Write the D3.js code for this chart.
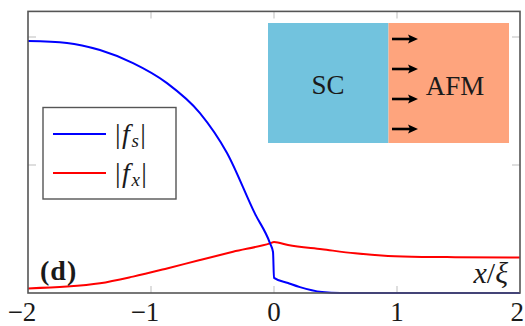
<!DOCTYPE html>
<html><head><meta charset="utf-8">
<script src="https://cdn.jsdelivr.net/npm/d3@7"></script>
<style>body{margin:0;background:#fff}svg{display:block}</style>
</head><body>
<svg id="c" width="525" height="326"></svg>
<script>
const xTicks = [-2, -1, 0, 1, 2];
const xTickLabels = ["\u22122", "\u22121", "0", "1", "2"];
const yTicks = [0.5, 1];
const fsX = [-2, -1.683, -1.415, -1.146, -0.870, -0.602, -0.382, -0.154, -0.033, -0.008, 0, 0.114, 0.211, 0.39, 0.54, 1, 1.5, 2];
const fsY = [0.984, 0.977, 0.949, 0.898, 0.820, 0.703, 0.547, 0.309, 0.195, 0.160, 0.059, 0.039, 0.023, 0.004, 0, 0, 0, 0];
const fxX = [-2, -1.683, -1.415, -1.146, -0.870, -0.602, -0.333, -0.033, 0, 0.114, 0.39, 0.659, 0.927, 1.203, 1.472, 2];
const fxY = [0.018, 0.025, 0.038, 0.064, 0.096, 0.129, 0.161, 0.194, 0.199, 0.1875, 0.171, 0.155, 0.145, 0.141, 0.140, 0.139];
const legendLabels = ["s", "x"];

const svg = d3.select("#c");
const x = d3.scaleLinear().domain([-2, 2]).range([28, 520]);
const y = d3.scaleLinear().domain([0, 1.1]).range([293, 11.4]);
const serif = "'Liberation Serif','DejaVu Serif',serif";
const ink = "#1a1a1a";

const tickCol = "#c8c8c8";
const g = svg.append("g");
xTicks.slice(1, -1).forEach(t => {
  g.append("line").attr("x1", x(t)).attr("x2", x(t)).attr("y1", y.range()[1]).attr("y2", y.range()[1] + 7).attr("stroke", tickCol).attr("stroke-width", 1.2);
  g.append("line").attr("x1", x(t)).attr("x2", x(t)).attr("y1", y(0)).attr("y2", y(0) - 7).attr("stroke", tickCol).attr("stroke-width", 1.2);
});
yTicks.forEach(t => {
  g.append("line").attr("x1", x(-2)).attr("x2", x(-2) + 8).attr("y1", y(t)).attr("y2", y(t)).attr("stroke", tickCol).attr("stroke-width", 1.2);
  g.append("line").attr("x1", x(2)).attr("x2", x(2) - 8).attr("y1", y(t)).attr("y2", y(t)).attr("stroke", tickCol).attr("stroke-width", 1.2);
});

const inset = svg.append("g");
inset.append("rect").attr("x", 268).attr("y", 23).attr("width", 120.5).attr("height", 120).attr("fill", "#72c3de");
inset.append("rect").attr("x", 388.5).attr("y", 23).attr("width", 120.5).attr("height", 120).attr("fill", "#fea47d");
inset.append("text").attr("x", 328).attr("y", 94).attr("text-anchor", "middle").style("font-family", serif).attr("font-size", 27).attr("fill", ink).text("SC");
inset.append("text").attr("x", 455).attr("y", 95).attr("text-anchor", "middle").style("font-family", serif).attr("font-size", 27).attr("fill", ink).text("AFM");
[39, 69, 99, 129].forEach(ay => {
  inset.append("line").attr("x1", 392).attr("x2", 411).attr("y1", ay).attr("y2", ay).attr("stroke", "#000").attr("stroke-width", 2.6);
  inset.append("path").attr("d", `M${418},${ay} L${408},${ay - 4.5} L${410},${ay} L${408},${ay + 4.5} Z`).attr("fill", "#000");
});

const line = d3.line().curve(d3.curveMonotoneX).x(d => x(d[0])).y(d => y(d[1]));
svg.append("path").datum(fxX.map((v, i) => [v, fxY[i]])).attr("d", line).attr("fill", "none").attr("stroke", "#ff0000").attr("stroke-width", 2);
svg.append("path").datum(fsX.map((v, i) => [v, fsY[i]])).attr("d", line).attr("fill", "none").attr("stroke", "#0000ff").attr("stroke-width", 2);

svg.append("rect").attr("x", x(-2)).attr("y", y.range()[1]).attr("width", x(2) - x(-2)).attr("height", y(0) - y.range()[1]).attr("fill", "none").attr("stroke", "#555").attr("stroke-width", 1.6);

xTicks.forEach((t, i) => {
  const last = i === xTicks.length - 1;
  svg.append("text")
    .attr("x", last ? 524 : x(t) - (xTickLabels[i].length > 1 ? 6 : 0))
    .attr("y", 321)
    .attr("text-anchor", last ? "end" : "middle")
    .style("font-family", serif).attr("font-size", 27).attr("fill", ink).text(xTickLabels[i]);
});

const lg = svg.append("g");
lg.append("rect").attr("x", 43).attr("y", 107.5).attr("width", 133).attr("height", 91.5).attr("fill", "#fff").attr("stroke", "#555").attr("stroke-width", 1.4);
const cols = ["#0000ff", "#ff0000"];
[134, 173].forEach((ly, i) => {
  lg.append("line").attr("x1", 53).attr("x2", 106).attr("y1", ly).attr("y2", ly).attr("stroke", cols[i]).attr("stroke-width", 2);
  const t = lg.append("text").attr("x", 115).attr("y", ly + 9).style("font-family", serif).attr("font-size", 28).attr("fill", ink).attr("letter-spacing", 1.5);
  t.append("tspan").text("|");
  t.append("tspan").attr("font-style", "italic").text("f");
  t.append("tspan").attr("font-style", "italic").attr("font-size", 19).attr("dy", 4).text(legendLabels[i]);
  t.append("tspan").attr("dy", -4).text("|");
});

svg.append("text").attr("x", 40).attr("y", 280).style("font-family", serif).attr("font-weight", "bold").attr("font-size", 28).attr("fill", ink).attr("letter-spacing", 1).text("(d)");

const al = svg.append("text").attr("x", 508).attr("y", 283).attr("text-anchor", "end").style("font-family", serif).attr("font-style", "italic").attr("font-size", 30).attr("fill", ink);
al.append("tspan").text("x");
al.append("tspan").attr("font-style", "normal").text("/");
al.append("tspan").text("\u03be");
</script>
</body></html>
